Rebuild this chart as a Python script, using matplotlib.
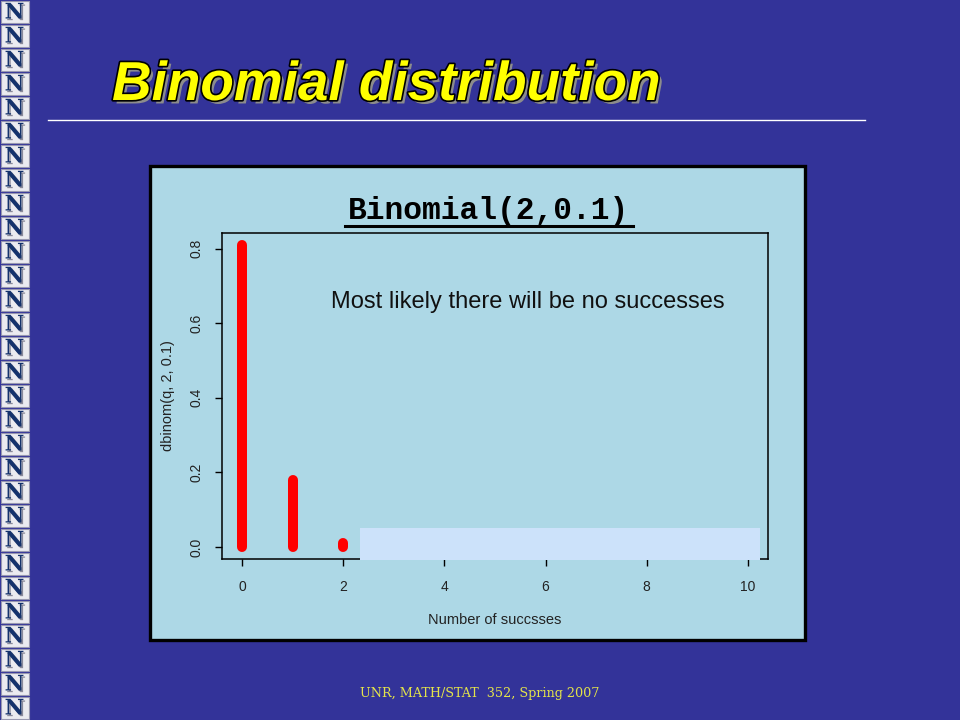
import matplotlib
matplotlib.use("Agg")
import matplotlib.pyplot as plt
import matplotlib.patheffects as pe
from matplotlib.patches import Rectangle
from matplotlib.lines import Line2D

# ---- data ----
q_values = [0, 1, 2, 3, 4, 5, 6, 7, 8, 9, 10]
probabilities = [0.81, 0.18, 0.01, 0, 0, 0, 0, 0, 0, 0, 0]
x_ticks = [0, 2, 4, 6, 8, 10]
y_ticks = [0.0, 0.2, 0.4, 0.6, 0.8]
y_tick_labels = ["0.0", "0.2", "0.4", "0.6", "0.8"]

slide_title = "Binomial distribution"
chart_title = "Binomial(2,0.1)"
annotation = "Most likely there will be no successes"
x_label = "Number of succsses"
y_label = "dbinom(q, 2, 0.1)"
footer = "UNR, MATH/STAT  352, Spring 2007"

W, H = 960, 720
def fx(px):
    return px / W
def fy(py):
    return 1 - py / H

BG = "#333399"
PANEL = "#ADD8E6"

fig = plt.figure(figsize=(9.6, 7.2), dpi=100, facecolor=BG)

# left strip of "N" logos
for i in range(30):
    y0 = i * 24
    fig.add_artist(Rectangle((fx(1), fy(y0 + 23)), 28 / W, 22 / H,
                             transform=fig.transFigure, facecolor="#EBEBF0",
                             edgecolor="#9898B0", lw=0.8, zorder=1))
    fig.text(fx(14.5), fy(y0 + 12.5), "N", ha="center", va="center",
             family="DejaVu Serif", weight="bold", fontsize=15.5,
             color="#14326C", zorder=2,
             path_effects=[pe.SimplePatchShadow(offset=(1.2, -1.2), shadow_rgbFace="#8A8A9A", alpha=1),
                           pe.Normal()])

# slide title
fig.text(fx(112), fy(100), slide_title, ha="left", va="baseline",
         family="Liberation Sans", weight="bold", style="italic", fontsize=39.5,
         color="#FFFF00",
         path_effects=[pe.SimplePatchShadow(offset=(2.5, -2.5), shadow_rgbFace="#8C8C8C", alpha=1),
                       pe.Stroke(linewidth=2.4, foreground="black"),
                       pe.Normal()])

# separator line
fig.add_artist(Line2D([fx(48), fx(865)], [fy(120), fy(120)], color="white", lw=1.0))

# chart panel
fig.add_artist(Rectangle((fx(149.5), fy(640)), (805 - 149.5) / W, (640 - 166) / H,
                         transform=fig.transFigure, facecolor=PANEL,
                         edgecolor="black", lw=2.4, zorder=-1))

# chart title with underline
fig.text(fx(488), fy(211), chart_title, ha="center", va="center",
         family="Liberation Mono", weight="bold", fontsize=22.5, color="black")
fig.add_artist(Line2D([fx(345), fx(633)], [fy(226), fy(226)], color="black", lw=2.2))

# axes
ax = fig.add_axes([fx(222), fy(559), (768 - 222) / W, (559 - 233) / H])
ax.set_facecolor(PANEL)
lc = ax.vlines(q_values, 0, probabilities, colors="red", linewidth=7.2)
lc.set_capstyle("round")
ax.set_xlim(-0.4, 10.4)
ax.set_ylim(-0.0324, 0.8424)
ax.set_xticks(x_ticks)
ax.set_xticklabels([str(v) for v in x_ticks])
ax.set_yticks(y_ticks)
ax.set_yticklabels(y_tick_labels, rotation=90, va="center")
for s in ax.spines.values():
    s.set_linewidth(1.1)
ax.tick_params(axis="both", direction="out", length=5, width=1, labelsize=10,
               colors="black")
ax.tick_params(axis="x", pad=10)
ax.tick_params(axis="y", pad=8)
for lab in ax.get_xticklabels() + ax.get_yticklabels():
    lab.set_family("Liberation Sans")
    lab.set_color("#222222")
ax.set_xlabel(x_label, family="Liberation Sans", fontsize=10.5, labelpad=14, color="#222222")
ax.set_ylabel(y_label, family="Liberation Sans", fontsize=10.5, labelpad=11, color="#222222")

ax.text(0.56, 0.789, annotation, transform=ax.transAxes, ha="center", va="center",
        family="Liberation Sans", fontsize=17, color="#111111")

# light box covering bottom of plot
fig.add_artist(Rectangle((fx(360), fy(560)), (760 - 360) / W, (560 - 528) / H,
                         transform=fig.transFigure, facecolor="#CCE2FA",
                         edgecolor="none", zorder=5))

# footer
fig.text(fx(480), fy(693), footer, ha="center", va="center",
         family="DejaVu Serif", fontsize=9.2, color="#E4E44A")

fig.savefig("out.png", dpi=100, facecolor=BG)
